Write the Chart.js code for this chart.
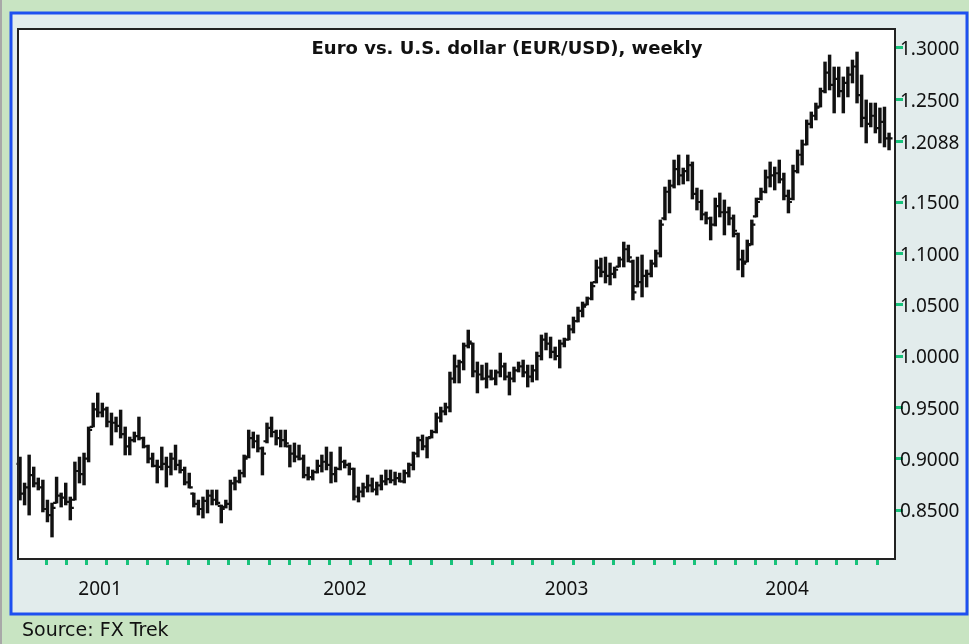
<!DOCTYPE html>
<html>
<head>
<meta charset="utf-8">
<script src="https://cdn.jsdelivr.net/npm/chart.js@4.4.0/dist/chart.umd.min.js"></script>
<style>
  html, body { margin: 0; padding: 0; background: #c8e4c2; overflow: hidden; }
  canvas { display: block; }
</style>
</head>
<body>
<canvas id="fxChart" width="969" height="644"></canvas>
<script>
// Weekly EUR/USD bars, one entry per week
const highs = [
  0.9016, 0.8763, 0.9036, 0.8919, 0.8812, 0.8792, 0.8597, 0.8568, 0.8821, 0.8666,
  0.8763, 0.8627, 0.8968, 0.9016, 0.9055, 0.9309, 0.9542, 0.9640, 0.9542, 0.9503,
  0.9445, 0.9406, 0.9474, 0.9309, 0.9211, 0.9260, 0.9406, 0.9211, 0.9133, 0.9055,
  0.8987, 0.9114, 0.9016, 0.9055, 0.9133, 0.8987, 0.8919, 0.8860, 0.8666, 0.8597,
  0.8627, 0.8695, 0.8695, 0.8695, 0.8549, 0.8597, 0.8792, 0.8821, 0.8890, 0.9036,
  0.9279, 0.9260, 0.9231, 0.9114, 0.9348, 0.9406, 0.9279, 0.9279, 0.9279, 0.9133,
  0.9153, 0.9133, 0.9036, 0.8919, 0.8890, 0.8987, 0.9036, 0.9114, 0.9065, 0.8919,
  0.9114, 0.8987, 0.8958, 0.8909, 0.8724, 0.8763, 0.8841, 0.8812, 0.8773, 0.8841,
  0.8890, 0.8890, 0.8870, 0.8860, 0.8890, 0.8958, 0.9065, 0.9211, 0.9231, 0.9211,
  0.9279, 0.9445, 0.9503, 0.9542, 0.9844, 1.0010, 0.9961, 1.0127, 1.0253, 1.0127,
  0.9942, 0.9912, 0.9932, 0.9864, 0.9864, 1.0029, 0.9932, 0.9844, 0.9893, 0.9942,
  0.9961, 0.9912, 0.9912, 1.0039, 1.0205, 1.0224, 1.0185, 1.0088, 1.0156, 1.0175,
  1.0302, 1.0380, 1.0477, 1.0526, 1.0575, 1.0721, 1.0935, 1.0954, 1.0964, 1.0906,
  1.0867, 1.0964, 1.1110, 1.1081, 1.0935, 1.0964, 1.0984, 1.0838, 1.0935, 1.1032,
  1.1325, 1.1646, 1.1714, 1.1909, 1.1958, 1.1831, 1.1958, 1.1890, 1.1636, 1.1617,
  1.1403, 1.1354, 1.1539, 1.1588, 1.1520, 1.1451, 1.1374, 1.1198, 1.1032, 1.1130,
  1.1325, 1.1539, 1.1636, 1.1812, 1.1890, 1.1841, 1.1909, 1.1782, 1.1617, 1.1860,
  1.2007, 1.2104, 1.2299, 1.2377, 1.2464, 1.2610, 1.2864, 1.2932, 1.2815, 1.2815,
  1.2718, 1.2815, 1.2883, 1.2961, 1.2737, 1.2494, 1.2464, 1.2464, 1.2416, 1.2425,
  1.2172
];
const lows = [
  0.8597, 0.8549, 0.8451, 0.8724, 0.8695, 0.8481, 0.8384, 0.8237, 0.8568, 0.8529,
  0.8549, 0.8403, 0.8597, 0.8763, 0.8744, 0.8968, 0.9309, 0.9406, 0.9406, 0.9309,
  0.9133, 0.9260, 0.9201, 0.9036, 0.9036, 0.9162, 0.9182, 0.9104, 0.8958, 0.8919,
  0.8763, 0.8890, 0.8724, 0.8841, 0.8890, 0.8860, 0.8744, 0.8714, 0.8529, 0.8451,
  0.8422, 0.8471, 0.8549, 0.8549, 0.8374, 0.8519, 0.8500, 0.8695, 0.8763, 0.8821,
  0.9007, 0.9104, 0.9065, 0.8841, 0.9153, 0.9211, 0.9133, 0.9114, 0.9114, 0.8919,
  0.8968, 0.8987, 0.8812, 0.8792, 0.8792, 0.8860, 0.8870, 0.8890, 0.8763, 0.8773,
  0.8890, 0.8909, 0.8841, 0.8597, 0.8578, 0.8627, 0.8675, 0.8675, 0.8646, 0.8695,
  0.8744, 0.8763, 0.8744, 0.8773, 0.8763, 0.8821, 0.8890, 0.9016, 0.9085, 0.9007,
  0.9201, 0.9250, 0.9357, 0.9426, 0.9455, 0.9737, 0.9737, 0.9864, 1.0078, 0.9796,
  0.9640, 0.9766, 0.9688, 0.9766, 0.9718, 0.9796, 0.9766, 0.9620, 0.9747, 0.9844,
  0.9796, 0.9698, 0.9747, 0.9766, 0.9961, 1.0059, 0.9981, 0.9961, 0.9883, 1.0088,
  1.0156, 1.0224, 1.0331, 1.0380, 1.0497, 1.0546, 1.0711, 1.0770, 1.0711, 1.0692,
  1.0760, 1.0867, 1.0867, 1.0916, 1.0546, 1.0672, 1.0575, 1.0672, 1.0770, 1.0867,
  1.0964, 1.1325, 1.1393, 1.1636, 1.1666, 1.1675, 1.1705, 1.1529, 1.1422, 1.1325,
  1.1286, 1.1130, 1.1266, 1.1354, 1.1179, 1.1276, 1.1159, 1.0838, 1.0770, 1.0916,
  1.1081, 1.1354, 1.1520, 1.1588, 1.1646, 1.1617, 1.1685, 1.1520, 1.1393, 1.1520,
  1.1782, 1.1860, 1.2055, 1.2221, 1.2299, 1.2425, 1.2562, 1.2591, 1.2367, 1.2523,
  1.2367, 1.2523, 1.2659, 1.2464, 1.2231, 1.2075, 1.2231, 1.2172, 1.2075, 1.2036,
  1.2007
];
const opens = [
  0.895, 0.866, 0.872, 0.884, 0.876, 0.872, 0.851, 0.845, 0.857, 0.864,
  0.862, 0.858, 0.860, 0.888, 0.885, 0.900, 0.931, 0.948, 0.945, 0.948,
  0.936, 0.935, 0.932, 0.924, 0.912, 0.918, 0.922, 0.920, 0.912, 0.900,
  0.893, 0.892, 0.895, 0.892, 0.900, 0.894, 0.889, 0.877, 0.866, 0.856,
  0.851, 0.859, 0.864, 0.860, 0.854, 0.853, 0.856, 0.876, 0.878, 0.886,
  0.902, 0.920, 0.917, 0.910, 0.917, 0.930, 0.926, 0.920, 0.918, 0.912,
  0.905, 0.902, 0.900, 0.884, 0.882, 0.887, 0.893, 0.897, 0.894, 0.885,
  0.890, 0.897, 0.894, 0.890, 0.863, 0.868, 0.872, 0.874, 0.870, 0.874,
  0.878, 0.880, 0.879, 0.881, 0.878, 0.886, 0.894, 0.905, 0.918, 0.912,
  0.921, 0.926, 0.940, 0.946, 0.950, 0.978, 0.990, 0.994, 1.010, 1.012,
  0.985, 0.982, 0.978, 0.980, 0.978, 0.984, 0.990, 0.980, 0.978, 0.986,
  0.990, 0.984, 0.980, 0.986, 1.000, 1.016, 1.012, 1.004, 1.000, 1.012,
  1.016, 1.026, 1.034, 1.044, 1.050, 1.056, 1.072, 1.086, 1.082, 1.078,
  1.080, 1.087, 1.094, 1.104, 1.092, 1.068, 1.072, 1.078, 1.080, 1.090,
  1.100, 1.134, 1.160, 1.166, 1.182, 1.176, 1.180, 1.186, 1.158, 1.150,
  1.138, 1.134, 1.128, 1.146, 1.140, 1.140, 1.134, 1.119, 1.094, 1.092,
  1.109, 1.136, 1.153, 1.160, 1.174, 1.176, 1.178, 1.172, 1.156, 1.153,
  1.180, 1.196, 1.206, 1.226, 1.234, 1.243, 1.258, 1.276, 1.264, 1.270,
  1.258, 1.266, 1.274, 1.282, 1.254, 1.232, 1.226, 1.234, 1.222, 1.228,
  1.212
];
const closes = [
  0.866, 0.872, 0.884, 0.876, 0.872, 0.851, 0.845, 0.852, 0.864, 0.862,
  0.858, 0.852, 0.888, 0.885, 0.900, 0.928, 0.948, 0.945, 0.948, 0.936,
  0.935, 0.932, 0.924, 0.912, 0.918, 0.922, 0.920, 0.912, 0.900, 0.893,
  0.892, 0.895, 0.892, 0.900, 0.894, 0.889, 0.877, 0.872, 0.856, 0.851,
  0.859, 0.864, 0.860, 0.857, 0.851, 0.856, 0.876, 0.878, 0.886, 0.900,
  0.920, 0.917, 0.910, 0.905, 0.930, 0.926, 0.920, 0.918, 0.915, 0.905,
  0.902, 0.900, 0.884, 0.882, 0.887, 0.893, 0.897, 0.894, 0.885, 0.890,
  0.897, 0.894, 0.890, 0.863, 0.868, 0.872, 0.874, 0.870, 0.874, 0.878,
  0.880, 0.879, 0.881, 0.878, 0.886, 0.894, 0.905, 0.918, 0.912, 0.920,
  0.926, 0.940, 0.946, 0.950, 0.978, 0.990, 0.994, 1.010, 1.014, 0.985,
  0.982, 0.978, 0.980, 0.978, 0.984, 0.990, 0.980, 0.978, 0.986, 0.990,
  0.984, 0.980, 0.986, 1.000, 1.016, 1.012, 1.004, 1.000, 1.012, 1.016,
  1.026, 1.034, 1.044, 1.048, 1.056, 1.068, 1.086, 1.082, 1.078, 1.080,
  1.084, 1.094, 1.104, 1.096, 1.062, 1.072, 1.078, 1.080, 1.090, 1.100,
  1.128, 1.160, 1.166, 1.182, 1.176, 1.180, 1.186, 1.158, 1.150, 1.138,
  1.134, 1.128, 1.146, 1.140, 1.140, 1.134, 1.122, 1.094, 1.090, 1.108,
  1.128, 1.150, 1.160, 1.174, 1.176, 1.178, 1.172, 1.156, 1.150, 1.180,
  1.196, 1.206, 1.226, 1.234, 1.242, 1.258, 1.276, 1.264, 1.270, 1.258,
  1.266, 1.274, 1.282, 1.254, 1.232, 1.226, 1.234, 1.222, 1.228, 1.212,
  1.212
];

// Axis labels
const yTicks = [0.85, 0.90, 0.95, 1.00, 1.05, 1.10, 1.15, 1.2088, 1.25, 1.30];
const yearLabels = ['2001', '2002', '2003', '2004'];
const yearPos = [17.5, 71.05, 119.5, 167.7]; // week index under each year label
const monthCount = 42; // green tick marks along the bottom

const GREEN = '#17c27a';
const INK = '#111111';

// background, panel, plot frame, open/close ticks and texts
const framePlugin = {
    id: 'framePlugin',
    beforeDraw(chart) {
        const { ctx, chartArea: a } = chart;
        ctx.save();
        ctx.fillStyle = '#c8e4c2';
        ctx.fillRect(0, 0, chart.width, chart.height);
        ctx.fillStyle = '#a8a8a8';
        ctx.fillRect(0, 0, 2, chart.height);
        ctx.fillStyle = '#e2ecec';
        ctx.fillRect(11, 13, 956, 601);
        ctx.strokeStyle = '#1e50f0';
        ctx.lineWidth = 3;
        ctx.strokeRect(11, 13, 956, 601);
        ctx.fillStyle = '#ffffff';
        ctx.fillRect(a.left, a.top, a.right - a.left, a.bottom - a.top);
        ctx.restore();
    },
    afterDatasetsDraw(chart) {
        const { ctx } = chart;
        const y = chart.scales.y;
        const meta = chart.getDatasetMeta(0);
        ctx.save();
        ctx.strokeStyle = INK;
        ctx.lineWidth = 2.2;
        ctx.beginPath();
        meta.data.forEach((bar, i) => {
            const yo = y.getPixelForValue(opens[i]);
            const yc = y.getPixelForValue(closes[i]);
            ctx.moveTo(bar.x - 3.5, yo);
            ctx.lineTo(bar.x, yo);
            ctx.moveTo(bar.x, yc);
            ctx.lineTo(bar.x + 3.5, yc);
        });
        ctx.stroke();
        ctx.restore();
    },
    afterDraw(chart) {
        const { ctx, chartArea: a } = chart;
        ctx.save();
        ctx.strokeStyle = '#222';
        ctx.lineWidth = 2;
        ctx.strokeRect(a.left, a.top, a.right - a.left, a.bottom - a.top);
        ctx.fillStyle = INK;
        ctx.font = 'bold 18px "DejaVu Sans"';
        ctx.textAlign = 'center';
        ctx.textBaseline = 'alphabetic';
        ctx.fillText('Euro vs. U.S. dollar (EUR/USD), weekly', 507, 54);
        ctx.font = '19px "DejaVu Sans"';
        ctx.textAlign = 'left';
        ctx.fillText('Source: FX Trek', 22, 636);
        ctx.restore();
    }
};

const ctx = document.getElementById('fxChart').getContext('2d');
const fxChart = new Chart(ctx, {
    type: 'bar',
    data: {
        datasets: [{
            data: highs.map((h, i) => ({ x: i, y: [lows[i], h] })),
            backgroundColor: INK,
            borderWidth: 0,
            barThickness: 2.8,
            grouped: false
        }]
    },
    plugins: [framePlugin],
    options: {
        responsive: false,
        animation: false,
        layout: {
            padding: { left: 18, top: 29, right: 0, bottom: 41 }
        },
        plugins: {
            legend: { display: false },
            tooltip: { enabled: false }
        },
        scales: {
            x: {
                type: 'linear',
                position: 'bottom',
                weight: 1,
                min: -0.437,
                max: 191.3,
                offset: false,
                grid: { display: false, drawTicks: false },
                border: { display: false },
                afterBuildTicks: (s) => { s.ticks = yearPos.map(v => ({ value: v })); },
                ticks: {
                    autoSkip: false,
                    maxRotation: 0,
                    padding: 15,
                    color: INK,
                    font: { family: 'Noto Sans', size: 19 },
                    callback: (v, i) => yearLabels[i]
                },
                afterFit: (s) => { s.height = 40; }
            },
            xm: {
                type: 'linear',
                position: 'bottom',
                weight: 0,
                min: -0.888,
                max: 42.378,
                offset: false,
                grid: { drawOnChartArea: false, drawTicks: true, tickLength: 6, color: GREEN, lineWidth: 3 },
                border: { display: false },
                ticks: { display: false, stepSize: 1 },
                afterBuildTicks: (s) => {
                    s.ticks = s.ticks.filter(t => Number.isInteger(t.value) && t.value >= 0 && t.value < monthCount);
                },
                afterFit: (s) => { s.height = 4; }
            },
            y: {
                type: 'linear',
                position: 'right',
                min: 0.8023,
                max: 1.3185,
                grid: { drawOnChartArea: false, drawTicks: true, tickLength: 8, color: GREEN, lineWidth: 3 },
                border: { display: false },
                afterBuildTicks: (s) => { s.ticks = yTicks.map(v => ({ value: v })); },
                ticks: {
                    padding: -3,
                    labelOffset: 2,
                    color: INK,
                    font: { family: 'Noto Sans', size: 19 },
                    callback: (v) => v.toFixed(4)
                },
                afterFit: (s) => { s.width = 74; }
            }
        }
    }
});
</script>
</body>
</html>
